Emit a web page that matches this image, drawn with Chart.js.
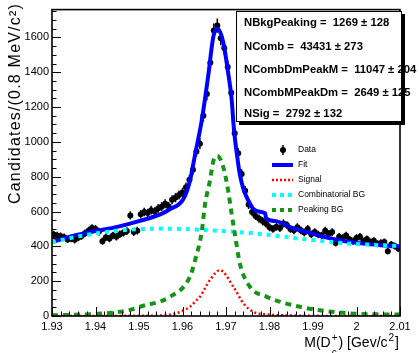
<!DOCTYPE html>
<html><head><meta charset="utf-8">
<script src="https://cdn.jsdelivr.net/npm/chart.js@4"></script>
<style>html,body{margin:0;padding:0;background:#fff;overflow:hidden}canvas{display:block}</style>
</head><body>
<canvas id="c" width="419" height="353"></canvas>
<script>
// ---- data ----
const binLow = 1.93, binWidth = 0.0008, nBins = 100;
const binCenters = Array.from({length: nBins}, (_, i) => +(binLow + binWidth * (i + 0.5)).toFixed(5));
const dataCounts = [
 468,462,458,452,440,445,438,450,460,475,
 490,505,500,485,430,452,445,462,455,470,
 478,488,578,482,490,585,598,592,608,600,
 618,628,645,630,668,680,695,710,740,782,
 840,945,990,1150,1275,1455,1640,1668,1595,1540,
 1430,1282,1050,935,815,720,640,598,575,560,
 545,532,510,500,512,505,532,522,500,492,
 510,492,480,500,470,482,468,462,490,472,
 482,420,455,448,462,440,430,448,455,430,
 442,425,432,415,420,425,372,410,402,388];
const fitX = [1.93,1.935,1.94,1.945,1.95,1.955,1.957,1.9602,1.9617,1.9629,1.9644,1.9659,1.9671,1.9681,1.9694,1.9705,1.9713,1.9718,1.9725,1.9732,1.974,1.9748,1.9755,1.9762,1.9775,1.979,1.9792,1.9815,1.985,1.989,1.9925,1.996,2.0,2.005,2.01];
const fitY = [425,462,488,512,545,585,612,672,776,929,1120,1377,1606,1650,1568,1396,1244,1080,930,810,730,680,646,617,600,590,562,545,508,480,455,435,420,408,400];
const sigX = [1.93,1.95,1.955,1.958,1.96,1.9617,1.963,1.964,1.9663,1.9686,1.9717,1.974,1.9762,1.98,1.985,1.99,2.01];
const sigY = [0,1,3,12,30,53,85,110,206,263,168,73,25,8,3,1,0];
const combX = [1.93,1.935,1.94,1.945,1.95,1.955,1.96,1.965,1.97,1.975,1.98,1.985,1.99,1.995,2.0,2.005,2.01];
const combY = [423,452,474,490,499,502,500,494,487,478,465,450,436,423,413,407,402];
const peakX = [1.93,1.935,1.94,1.945,1.948,1.9502,1.9571,1.9617,1.963,1.9644,1.9652,1.9663,1.9671,1.968,1.9694,1.9705,1.9713,1.9721,1.9732,1.9755,1.9794,1.987,1.9985,2.01];
const peakY = [4,7,12,22,35,53,110,225,330,480,644,776,891,920,853,719,586,462,300,168,110,53,15,8];
const xTickValues = [1.93,1.94,1.95,1.96,1.97,1.98,1.99,2.0,2.01];
const xTickLabels = ['1.93','1.94','1.95','1.96','1.97','1.98','1.99','2','2.01'];
const yTickValues = [0,200,400,600,800,1000,1200,1400,1600];
const yTickLabels = ['0','200','400','600','800','1000','1200','1400','1600'];
const statNames = ['NBkgPeaking','NComb','NCombDmPeakM','NCombMPeakDm','NSig'];
const statValues = [1269,43431,11047,2649,2792];
const statErrors = [128,273,204,125,132];
const legendLabels = ['Data','Fit','Signal','Combinatorial BG','Peaking BG'];
const yTitle = 'Candidates/(0.8 MeV/c\u00B2)';

const pts = (xs, ys) => xs.map((v, i) => ({x: v, y: ys[i]}));
const FONT = '"Liberation Sans", Arial, sans-serif';
const GREEN = '#179417';

const rootPlugin = {
  id: 'rootStyle',
  afterDatasetDraw(chart, args) {
    if (args.index !== 0) return;
    const {ctx, scales: {x, y}} = chart;
    ctx.save();
    ctx.strokeStyle = '#000'; ctx.lineWidth = 1.5;
    binCenters.forEach((c, i) => {
      const v = dataCounts[i], e = Math.sqrt(v);
      const px = x.getPixelForValue(c), py = y.getPixelForValue(v);
      ctx.beginPath();
      ctx.moveTo(px, y.getPixelForValue(v - e)); ctx.lineTo(px, y.getPixelForValue(v + e));
      ctx.moveTo(x.getPixelForValue(c - binWidth / 2), py); ctx.lineTo(x.getPixelForValue(c + binWidth / 2), py);
      ctx.stroke();
    });
    ctx.restore();
  },
  afterDraw(chart) {
    const {ctx, chartArea: a, scales: {x, y}} = chart;
    ctx.save();
    // frame
    ctx.strokeStyle = '#000'; ctx.lineWidth = 1.6;
    ctx.strokeRect(a.left, a.top, a.right - a.left, a.bottom - a.top);
    // ticks
    ctx.lineWidth = 1;
    ctx.beginPath();
    for (let k = 0; k * 50 <= y.max; k++) {
      const py = Math.round(y.getPixelForValue(k * 50)) + 0.5;
      const len = (k % 4 === 0) ? 9 : 4.5;
      ctx.moveTo(a.left, py); ctx.lineTo(a.left + len, py);
    }
    for (let k = 0; k <= 40; k++) {
      const px = Math.round(x.getPixelForValue(x.min + k * 0.002)) + 0.5;
      const len = (k % 5 === 0) ? 9 : 4.5;
      ctx.moveTo(px, a.bottom); ctx.lineTo(px, a.bottom - len);
    }
    ctx.stroke();
    // y title
    ctx.save();
    ctx.fillStyle = '#000';
    ctx.font = '16px ' + FONT;
    try { ctx.letterSpacing = '1.2px'; } catch (e) {}
    ctx.translate(20, 3);
    ctx.rotate(-Math.PI / 2);
    ctx.textAlign = 'right'; ctx.textBaseline = 'alphabetic';
    ctx.fillText(yTitle, 0, 0);
    ctx.restore();
    // x title: M(D^{+}_{c}) [Gev/c^{2}]
    ctx.fillStyle = '#000'; ctx.textBaseline = 'alphabetic'; ctx.textAlign = 'left';
    const big = '14px ' + FONT, small = '10px ' + FONT;
    const base = 347;
    const parts = [
      {t: 'M(D', f: big, dy: 0},
      {t: '+', f: small, dy: -6, sub: 'c'},
      {t: ') [Gev/c', f: big, dy: 0},
      {t: '2', f: small, dy: -6},
      {t: ']', f: big, dy: 0}
    ];
    let total = 0;
    parts.forEach(p => { ctx.font = p.f; p.w = ctx.measureText(p.t).width + 1; total += p.w; });
    let cx = 400 - total;
    parts.forEach(p => {
      ctx.font = p.f;
      ctx.fillText(p.t, cx, base + p.dy);
      if (p.sub) ctx.fillText(p.sub, cx, base + 9);
      cx += p.w;
    });
    // stats box
    const bx = 236, by = 11, bw = 166, bh = 111;
    ctx.fillStyle = '#000';
    ctx.fillRect(bx + 3, by + 3, bw, bh);
    ctx.fillStyle = '#fff';
    ctx.fillRect(bx, by, bw, bh);
    ctx.strokeStyle = '#000'; ctx.lineWidth = 1;
    ctx.strokeRect(bx + 0.5, by + 0.5, bw - 1, bh - 1);
    ctx.fillStyle = '#000';
    ctx.font = 'bold 11.3px ' + FONT;
    const rowsY = [26, 50, 73, 96, 117];
    statNames.forEach((n, i) => {
      ctx.fillText(n + ' =  ' + statValues[i] + ' \u00B1 ' + statErrors[i], 244, rowsY[i]);
    });
    // legend
    const ly = [150, 165, 180, 195, 210];
    const lx0 = 272, lx1 = 293;
    ctx.font = '8.5px ' + FONT; ctx.textBaseline = 'middle';
    legendLabels.forEach((t, i) => { ctx.fillStyle = '#000'; ctx.fillText(t, 298, ly[i]); });
    ctx.beginPath(); ctx.arc(283, ly[0], 3, 0, Math.PI * 2); ctx.fill();
    ctx.lineWidth = 1.5; ctx.beginPath(); ctx.moveTo(283, ly[0] - 5); ctx.lineTo(283, ly[0] + 5); ctx.stroke();
    const lineItem = (yy, col, w, dash) => {
      ctx.save(); ctx.strokeStyle = col; ctx.lineWidth = w; ctx.setLineDash(dash);
      ctx.beginPath(); ctx.moveTo(lx0, yy); ctx.lineTo(lx1, yy); ctx.stroke(); ctx.restore();
    };
    lineItem(ly[1], '#0000ff', 4, []);
    lineItem(ly[2], '#ff0000', 2.5, [2, 2]);
    lineItem(ly[3], '#00ffff', 4, [4, 4]);
    lineItem(ly[4], GREEN, 4, [4, 4]);
    ctx.restore();
  }
};

const curve = (label, xs, ys, color, width, dash, order) => ({
  label, data: pts(xs, ys), showLine: true, borderColor: color, backgroundColor: color,
  borderWidth: width, borderDash: dash, pointRadius: 0, cubicInterpolationMode: 'monotone', order
});

new Chart(document.getElementById('c'), {
  type: 'scatter',
  data: {
    datasets: [
      {label: legendLabels[0], data: pts(binCenters, dataCounts), pointRadius: 3, pointBackgroundColor: '#000', pointBorderWidth: 0, backgroundColor: '#000', order: 5},
      curve(legendLabels[1], fitX, fitY, '#0000ff', 4, [], 4),
      curve(legendLabels[2], sigX, sigY, '#ff0000', 2.5, [2, 2.5], 3),
      curve(legendLabels[3], combX, combY, '#00ffff', 4, [4, 5], 2),
      curve(legendLabels[4], peakX, peakY, GREEN, 4, [6, 5], 1)
    ]
  },
  options: {
    responsive: false, animation: false, devicePixelRatio: 1,
    layout: {padding: {top: 8, right: 19, left: 0, bottom: 0}},
    plugins: {legend: {display: false}, tooltip: {enabled: false}},
    scales: {
      x: {
        type: 'linear', min: 1.93, max: 2.01,
        grid: {display: false, drawTicks: false}, border: {display: false},
        afterFit: s => { s.height = 37; },
        afterBuildTicks: s => { s.ticks = xTickValues.map(v => ({value: v})); },
        ticks: {padding: 4, color: '#000', font: {family: FONT, size: 11}, maxRotation: 0, autoSkip: false,
          callback: (v, i) => xTickLabels[i]}
      },
      y: {
        type: 'linear', min: 0, max: 1760,
        grid: {display: false, drawTicks: false}, border: {display: false},
        afterFit: s => { s.width = 52; },
        afterBuildTicks: s => { s.ticks = yTickValues.map(v => ({value: v})); },
        ticks: {padding: 3, color: '#000', font: {family: FONT, size: 11},
          callback: (v, i) => yTickLabels[i]}
      }
    }
  },
  plugins: [rootPlugin]
});
</script>
</body></html>
